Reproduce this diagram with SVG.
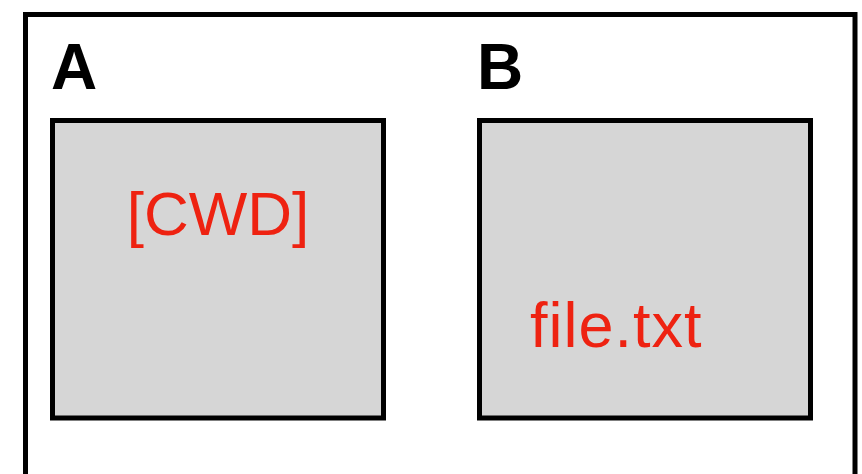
<svg xmlns="http://www.w3.org/2000/svg" width="862" height="474" viewBox="0 0 862 474">
<style>
.frame{fill:#ffffff;stroke:#000;stroke-width:5}
.box{fill:#d6d6d6;stroke:#000;stroke-width:5}
.lbl{font-family:"Liberation Sans",Arial,sans-serif;font-weight:bold;font-size:64px;fill:#000}
.red{font-family:"Liberation Sans",Arial,sans-serif;font-size:62px;fill:#ee2211}
</style>
<rect width="862" height="474" fill="#fff"/>
<g id="frame"><rect class="frame" x="25.5" y="14.5" width="829.5" height="480"/></g>
<g id="A">
<text class="lbl" x="51" y="89">A</text>
<rect class="box" x="52.5" y="120.5" width="331" height="297.5"/>
<text class="red" x="218" y="235" text-anchor="middle">[CWD]</text>
</g>
<g id="B">
<text class="lbl" x="477" y="89">B</text>
<rect class="box" x="479.5" y="120.5" width="331" height="297.5"/>
<text class="red" x="530" y="346.5" style="font-size:63px;letter-spacing:1px">file.txt</text>
</g>
<g id="connectors"></g>
</svg>
